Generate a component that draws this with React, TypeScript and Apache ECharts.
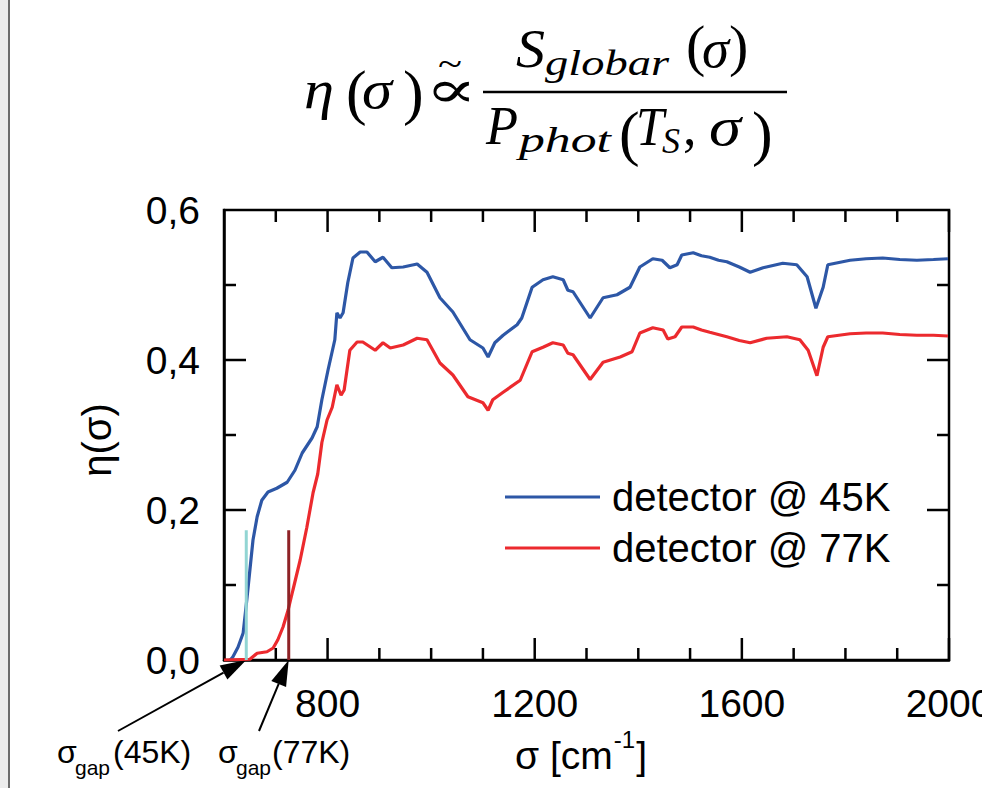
import React, { useEffect, useRef } from "react";
import * as echarts from "echarts";

// ---------------- data ----------------
const xMajorTicks = [800, 1200, 1600, 2000];
const xMinorTicks = [700, 900, 1000, 1100, 1300, 1400, 1500, 1700, 1800, 1900];
const yMajorTicks = [0.2, 0.4];
const yMinorTicks = [0.1, 0.3, 0.5];
const seriesNames = ["detector @ 45K", "detector @ 77K"];

const detector45K: [number, number][] = [
  [612, 0], [617, 0.004], [627, 0.017], [637, 0.036], [644, 0.08], [650, 0.12], [656, 0.16],
  [664, 0.191], [673, 0.213], [685, 0.224], [702, 0.229], [722, 0.237], [737, 0.253],
  [751, 0.276], [770, 0.296], [780, 0.311], [789, 0.347], [801, 0.387], [814, 0.427],
  [818, 0.463], [824, 0.456], [830, 0.463], [839, 0.503], [849, 0.536], [863, 0.544],
  [876, 0.544], [892, 0.531], [907, 0.537], [924, 0.523], [946, 0.524], [973, 0.528],
  [992, 0.517], [1017, 0.483], [1042, 0.464], [1075, 0.427], [1100, 0.416], [1110, 0.404],
  [1123, 0.423], [1139, 0.433], [1166, 0.447], [1175, 0.456], [1195, 0.497], [1216, 0.507],
  [1235, 0.511], [1255, 0.507], [1264, 0.493], [1274, 0.491], [1307, 0.456], [1332, 0.483],
  [1359, 0.487], [1384, 0.497], [1403, 0.524], [1428, 0.535], [1446, 0.533], [1461, 0.523],
  [1475, 0.527], [1484, 0.54], [1506, 0.543], [1522, 0.539], [1538, 0.537], [1555, 0.533],
  [1571, 0.531], [1595, 0.524], [1616, 0.517], [1641, 0.523], [1660, 0.526], [1679, 0.529],
  [1706, 0.527], [1726, 0.511], [1743, 0.469], [1757, 0.497], [1766, 0.527], [1809, 0.533],
  [1840, 0.535], [1872, 0.536], [1905, 0.534], [1938, 0.533], [1970, 0.534], [1998, 0.535],
];

const detector77K: [number, number][] = [
  [600, 0], [650, 0.001], [664, 0.009], [683, 0.011], [695, 0.016], [704, 0.027], [714, 0.044],
  [724, 0.067], [733, 0.093], [747, 0.133], [760, 0.177], [772, 0.223], [781, 0.248],
  [789, 0.29], [799, 0.32], [809, 0.337], [818, 0.367], [826, 0.353], [832, 0.36],
  [843, 0.413], [857, 0.424], [868, 0.424], [892, 0.413], [907, 0.423], [921, 0.416],
  [946, 0.42], [973, 0.429], [992, 0.427], [1017, 0.396], [1042, 0.38], [1071, 0.351],
  [1100, 0.343], [1110, 0.333], [1119, 0.347], [1139, 0.357], [1172, 0.373], [1195, 0.411],
  [1216, 0.417], [1235, 0.423], [1255, 0.42], [1264, 0.409], [1274, 0.407], [1307, 0.374],
  [1332, 0.397], [1365, 0.404], [1388, 0.411], [1403, 0.436], [1428, 0.443], [1448, 0.44],
  [1457, 0.428], [1471, 0.431], [1484, 0.444], [1506, 0.444], [1522, 0.44], [1538, 0.437],
  [1571, 0.431], [1595, 0.426], [1616, 0.423], [1648, 0.429], [1687, 0.431], [1712, 0.427],
  [1728, 0.413], [1745, 0.379], [1757, 0.417], [1766, 0.431], [1809, 0.435], [1840, 0.436],
  [1872, 0.436], [1905, 0.434], [1938, 0.433], [1970, 0.433], [1998, 0.432],
];

const gap45K: [number, number][] = [[643, 0], [643, 0.173]];
const gap77K: [number, number][] = [[725, 0], [725, 0.173]];

// ---------------- helpers ----------------
const SERIF = "'Liberation Serif', 'DejaVu Serif', serif";
const SANS = "'Liberation Sans', Arial, sans-serif";
const X_MIN = 600, X_MAX = 2000, Y_MIN = 0, Y_MAX = 0.6;
const MAJOR_LEN = 22, MINOR_LEN = 12;

let measureCtx: CanvasRenderingContext2D | null = null;
function measure(text: string, size: number, family: string, italic: boolean) {
  if (!measureCtx) measureCtx = document.createElement("canvas").getContext("2d");
  if (!measureCtx) return text.length * size * 0.5;
  measureCtx.font = `${italic ? "italic " : ""}${size}px ${family}`;
  return measureCtx.measureText(text).width;
}

function piece(
  text: string, x0: number, baseline: number, size: number,
  opts: { italic?: boolean; x1?: number; family?: string } = {}
) {
  const family = opts.family || SERIF;
  const italic = !!opts.italic;
  let scaleX = 1;
  if (opts.x1 !== undefined) {
    const w = measure(text, size, family, italic);
    if (w > 0) scaleX = Math.max(0.6, Math.min(1.8, (opts.x1 - x0) / w));
  }
  return {
    type: "text",
    x: x0,
    y: baseline - 0.34 * size,
    scaleX,
    silent: true,
    style: {
      text, x: 0, y: 0, fill: "#000", fontSize: size, fontFamily: family,
      fontStyle: italic ? "italic" : "normal", textAlign: "left", textVerticalAlign: "middle",
    },
  };
}

function arrow(tail: number[], tip: number[]) {
  const dx = tip[0] - tail[0];
  const dy = tip[1] - tail[1];
  const len = Math.sqrt(dx * dx + dy * dy);
  const ux = dx / len, uy = dy / len;
  const L = 26, W = 8;
  const bx = tip[0] - ux * L, by = tip[1] - uy * L;
  const px = -uy, py = ux;
  return [
    { type: "line", silent: true, shape: { x1: tail[0], y1: tail[1], x2: bx, y2: by }, style: { stroke: "#000", lineWidth: 2 } },
    {
      type: "polygon", silent: true,
      shape: { points: [[tip[0], tip[1]], [bx + px * W, by + py * W], [bx - px * W, by - py * W]] },
      style: { fill: "#000" },
    },
  ];
}

// tick marks on all four sides: [x, y, length, direction]; direction 0 = up, 1 = down, 2 = right, 3 = left
function buildTickMarks() {
  const out: number[][] = [];
  xMajorTicks.forEach((v) => { out.push([v, Y_MIN, MAJOR_LEN, 0]); out.push([v, Y_MAX, MAJOR_LEN, 1]); });
  xMinorTicks.forEach((v) => { out.push([v, Y_MIN, MINOR_LEN, 0]); out.push([v, Y_MAX, MINOR_LEN, 1]); });
  yMajorTicks.forEach((v) => { out.push([X_MIN, v, MAJOR_LEN, 2]); out.push([X_MAX, v, MAJOR_LEN, 3]); });
  yMinorTicks.forEach((v) => { out.push([X_MIN, v, MINOR_LEN, 2]); out.push([X_MAX, v, MINOR_LEN, 3]); });
  return out;
}

export default function App() {
  const ref = useRef<HTMLDivElement>(null);

  useEffect(() => {
    if (!ref.current) return;
    const chart = echarts.init(ref.current, undefined, { renderer: "svg" });

    chart.setOption({
      animation: false,
      backgroundColor: "#fff",
      grid: {
        left: 224, top: 210, width: 725, height: 450, containLabel: false, outerBoundsMode: "none",
        show: true, borderColor: "#000", borderWidth: 2.5, backgroundColor: "transparent",
      },
      legend: {
        data: seriesNames,
        orient: "vertical",
        left: 500,
        top: 472,
        itemWidth: 95,
        itemHeight: 3,
        itemGap: 11,
        icon: "rect",
        selectedMode: false,
        textStyle: { fontSize: 40, color: "#000", fontFamily: SANS, lineHeight: 40, padding: [0, 0, 0, 7] },
      },
      xAxis: {
        type: "value", min: X_MIN, max: X_MAX, position: "bottom",
        axisLine: { show: true, onZero: false, lineStyle: { color: "#000", width: 2.5 } },
        axisTick: { show: false },
        splitLine: { show: false },
        axisLabel: {
          show: true, customValues: xMajorTicks, fontSize: 39, color: "#000", fontFamily: SANS, margin: 24,
          formatter: (v: number) => String(v),
        },
      },
      yAxis: {
        type: "value", min: Y_MIN, max: Y_MAX, interval: 0.2, position: "left",
        axisLine: { show: true, onZero: false, lineStyle: { color: "#000", width: 2.5 } },
        axisTick: { show: false },
        splitLine: { show: false },
        axisLabel: {
          fontSize: 39, color: "#000", fontFamily: SANS, margin: 24,
          formatter: (v: number) => v.toFixed(1).replace(".", ","),
        },
      },
      series: [
        {
          name: seriesNames[0], type: "line", data: detector45K, showSymbol: false, symbol: "none",
          lineStyle: { color: "#2d57a6", width: 3.2 }, itemStyle: { color: "#2d57a6" }, z: 3, silent: true,
        },
        {
          name: seriesNames[1], type: "line", data: detector77K, showSymbol: false, symbol: "none",
          lineStyle: { color: "#ec2a2e", width: 3.2 }, itemStyle: { color: "#ec2a2e" }, z: 4, silent: true,
        },
        {
          name: "gap45", type: "line", data: gap45K, showSymbol: false, symbol: "none",
          lineStyle: { color: "#92d5d3", width: 3 }, z: 5, silent: true,
        },
        {
          name: "gap77", type: "line", data: gap77K, showSymbol: false, symbol: "none",
          lineStyle: { color: "#8e2226", width: 3 }, z: 5, silent: true,
        },
        {
          name: "ticks", type: "custom", data: buildTickMarks(), clip: false, silent: true, z: 10,
          encode: { x: 0, y: 1 },
          renderItem: (_params: any, api: any) => {
            const p = api.coord([api.value(0), api.value(1)]);
            const len = api.value(2);
            const dir = api.value(3);
            let x2 = p[0], y2 = p[1];
            if (dir === 0) y2 = p[1] - len;
            else if (dir === 1) y2 = p[1] + len;
            else if (dir === 2) x2 = p[0] + len;
            else x2 = p[0] - len;
            return {
              type: "line",
              shape: { x1: p[0], y1: p[1], x2, y2 },
              style: { stroke: "#000", lineWidth: 2.5 },
            };
          },
        },
      ],
    });

    const tip45 = chart.convertToPixel({ xAxisIndex: 0, yAxisIndex: 0 }, gap45K[0]) as number[];
    const tip77 = chart.convertToPixel({ xAxisIndex: 0, yAxisIndex: 0 }, gap77K[0]) as number[];

    const nameMain = "σ [cm";
    const nameSize = 39;
    const wMain = measure(nameMain, nameSize, SANS, false);
    const wSup = measure("-1", 24, SANS, false);
    const wBr = measure("]", nameSize, SANS, false);
    const nameEnd = 647;
    const brX = nameEnd - wBr;
    const supX = brX - wSup - 1;
    const mainX = supX - wMain - 1;

    const graphics: any[] = [
      { type: "rect", silent: true, shape: { x: 0, y: 0, width: 8, height: 788 }, style: { fill: "#ececec" } },
      { type: "rect", silent: true, shape: { x: 8, y: 0, width: 2, height: 788 }, style: { fill: "#6c6c6c" } },

      // title formula
      piece("η", 304, 108, 54, { italic: true, x1: 334 }),
      piece("(", 346, 113, 62, {}),
      piece("σ", 362, 108, 54, { italic: true, x1: 392 }),
      piece(")", 403, 113, 62, {}),
      piece("∝", 425, 107, 52, { x1: 477 }),
      piece("~", 438, 76, 36, { x1: 462 }),
      { type: "line", silent: true, shape: { x1: 483, y1: 92, x2: 787, y2: 92 }, style: { stroke: "#000", lineWidth: 2.5 } },
      piece("S", 516, 67, 54, { italic: true, x1: 545 }),
      piece("globar", 545, 75, 36, { italic: true, x1: 669 }),
      piece("(", 686, 65, 58, {}),
      piece("σ", 702, 67, 54, { italic: true, x1: 729 }),
      piece(")", 729, 65, 58, {}),
      piece("P", 486, 145, 54, { italic: true, x1: 518 }),
      piece("phot", 519, 152, 36, { italic: true, x1: 611 }),
      piece("(", 619, 154, 62, {}),
      piece("T", 636, 145, 54, { italic: true, x1: 664 }),
      piece("S", 662, 153, 36, { italic: true, x1: 680 }),
      piece(",", 683, 145, 54, {}),
      piece("σ", 709, 145, 54, { italic: true, x1: 741 }),
      piece(")", 752, 154, 62, {}),

      {
        type: "text", x: 97, y: 440, rotation: Math.PI / 2, silent: true,
        style: { text: "η(σ)", fontSize: 40, fontFamily: SANS, fill: "#000", textAlign: "center", textVerticalAlign: "middle" },
      },

      piece(nameMain, mainX, 769, nameSize, { family: SANS }),
      piece("-1", supX, 748, 24, { family: SANS }),
      piece("]", brX, 769, nameSize, { family: SANS }),

      piece("σ", 57, 763, 32, { family: SANS }),
      piece("gap", 75, 775, 21, { family: SANS }),
      piece("(45K)", 113, 763, 32, { family: SANS }),
      piece("σ", 218, 763, 32, { family: SANS }),
      piece("gap", 236, 775, 21, { family: SANS }),
      piece("(77K)", 272, 763, 32, { family: SANS }),

      ...arrow([118, 731], tip45),
      ...arrow([259, 731], tip77),
    ];

    chart.setOption({ graphic: graphics });

    return () => chart.dispose();
  }, []);

  return (
    <div ref={ref} style={{ position: "fixed", left: 0, top: 0, width: 982, height: 788, background: "#fff" }} />
  );
}
